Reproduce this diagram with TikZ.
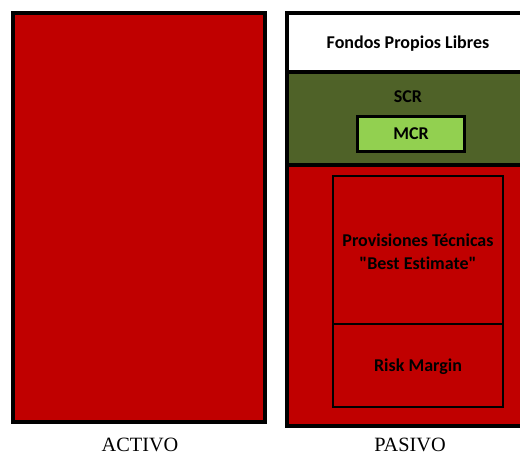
\documentclass[tikz,border=0pt]{standalone}
\usepackage{fontspec}
\setmainfont{Liberation Serif}
\newfontfamily\calib[Ligatures=NoCommon]{Carlito}
\definecolor{dred}{HTML}{C00000}
\definecolor{dgreen}{HTML}{4F6228}
\definecolor{lgreen}{HTML}{92D050}
\begin{document}
\begin{tikzpicture}[x=1pt,y=-1pt,
  thick box/.style={draw=black,line width=4pt},
  inner box/.style={draw=black,line width=2.2pt},
  lbl/.style={font=\calib\bfseries\fontsize{18}{23}\selectfont,text=black,align=center},
  captxt/.style={font=\fontsize{20.3}{24}\selectfont,text=black}]
\useasboundingbox (0,0) rectangle (520,455);
% ACTIVO
\draw[thick box,fill=dred] (13,13) rectangle (265,422);
% PASIVO
\fill[white] (287,13) rectangle (525,72);
\fill[dgreen] (287,72) rectangle (525,165);
\fill[dred] (287,165) rectangle (525,426);
\draw[line width=4pt] (287,72) -- (525,72);
\draw[line width=4pt] (287,165) -- (525,165);
\draw[thick box] (287,13) rectangle (525,426);
\node[lbl] (fpl) at (408,44) {Fondos Propios Libres};
\node[lbl] (scr) at (408,97) {SCR};
\node[inner box,fill=lgreen,minimum width=107pt,minimum height=35pt,inner sep=0pt,lbl] (mcr) at (411,134) {MCR};
\node[inner box,minimum width=170pt,minimum height=148pt,inner sep=0pt] (pt) at (418,250) {};
\node[inner box,minimum width=170pt,minimum height=83pt,inner sep=0pt] (rm) at (418,365.5) {};
\node[lbl] (ptl) at (418,251.5) {Provisiones Técnicas\\"Best Estimate"};
\node[lbl] (rml) at (418,367) {Risk Margin};
\node[captxt] (act) at (140,445) {ACTIVO};
\node[captxt] (pas) at (410,445) {PASIVO};
\end{tikzpicture}
\end{document}
